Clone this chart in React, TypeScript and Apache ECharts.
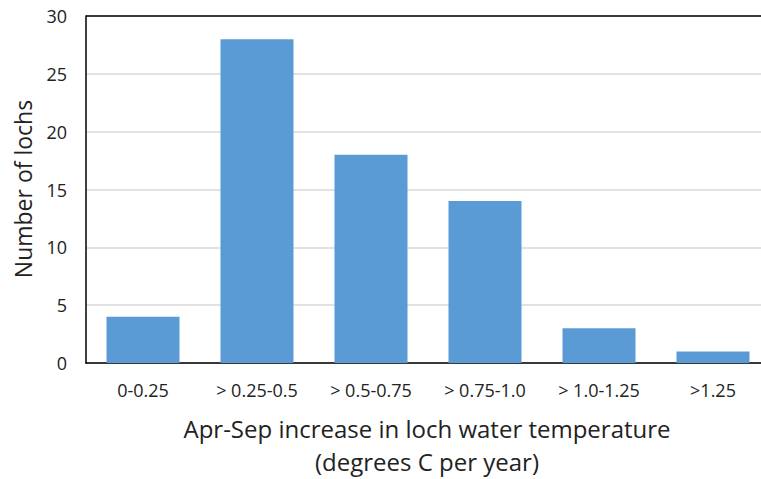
import React, { useEffect, useRef } from "react";
import * as echarts from "echarts";

const categories = ["0-0.25", "> 0.25-0.5", "> 0.5-0.75", "> 0.75-1.0", "> 1.0-1.25", ">1.25"];
const counts = [4, 28, 18, 14, 3, 1];
const yTicks = { min: 0, max: 30, interval: 5 };
const yTitle = "Number of lochs";
const xTitleLines = ["Apr-Sep increase in loch water temperature", "(degrees C per year)"];

const FONT = "'Open Sans', sans-serif";

export default function App() {
  const ref = useRef<HTMLDivElement>(null);
  useEffect(() => {
    if (!ref.current) return;
    const chart = echarts.init(ref.current, null, { renderer: "svg" });
    chart.setOption({
      animation: false,
      backgroundColor: "#ffffff",
      grid: { left: 86, right: 9, top: 16, bottom: 116, show: false },
      xAxis: {
        type: "category",
        data: categories,
        axisLine: { show: true, lineStyle: { color: "#000", width: 1.5 } },
        axisTick: { show: false },
        axisLabel: { color: "#222", fontSize: 18, fontFamily: FONT, margin: 18, interval: 0 },
      },
      yAxis: {
        type: "value",
        min: yTicks.min,
        max: yTicks.max,
        interval: yTicks.interval,
        axisLine: { show: true, lineStyle: { color: "#000", width: 1.5 } },
        axisTick: { show: false },
        axisLabel: { color: "#222", fontSize: 18, fontFamily: FONT, margin: 19 },
        splitLine: { show: true, lineStyle: { color: "#d9d9d9", width: 1.5 } },
      },
      graphic: [
        {
          type: "line",
          shape: { x1: 86, y1: 16, x2: 780, y2: 16 },
          style: { stroke: "#000", lineWidth: 1.5 },
          z: 10,
        },
        {
          type: "text",
          x: 427,
          y: 428,
          style: {
            text: xTitleLines[0],
            font: `24px ${FONT}`,
            fill: "#222",
            align: "center",
            verticalAlign: "middle",
          },
        },
        {
          type: "text",
          x: 427,
          y: 461,
          style: {
            text: xTitleLines[1],
            font: `24px ${FONT}`,
            fill: "#222",
            align: "center",
            verticalAlign: "middle",
          },
        },
        {
          type: "text",
          x: 23,
          y: 189,
          rotation: Math.PI / 2,
          style: {
            text: yTitle,
            font: `23px ${FONT}`,
            fill: "#222",
            align: "center",
            verticalAlign: "middle",
          },
        },
      ],
      series: [
        {
          type: "bar",
          data: counts,
          barWidth: 73,
          itemStyle: { color: "#5b9bd5" },
        },
      ],
    });
    return () => chart.dispose();
  }, []);
  return (
    <div
      ref={ref}
      style={{ position: "fixed", left: 0, top: 0, width: 779, height: 479, background: "#fff" }}
    />
  );
}
